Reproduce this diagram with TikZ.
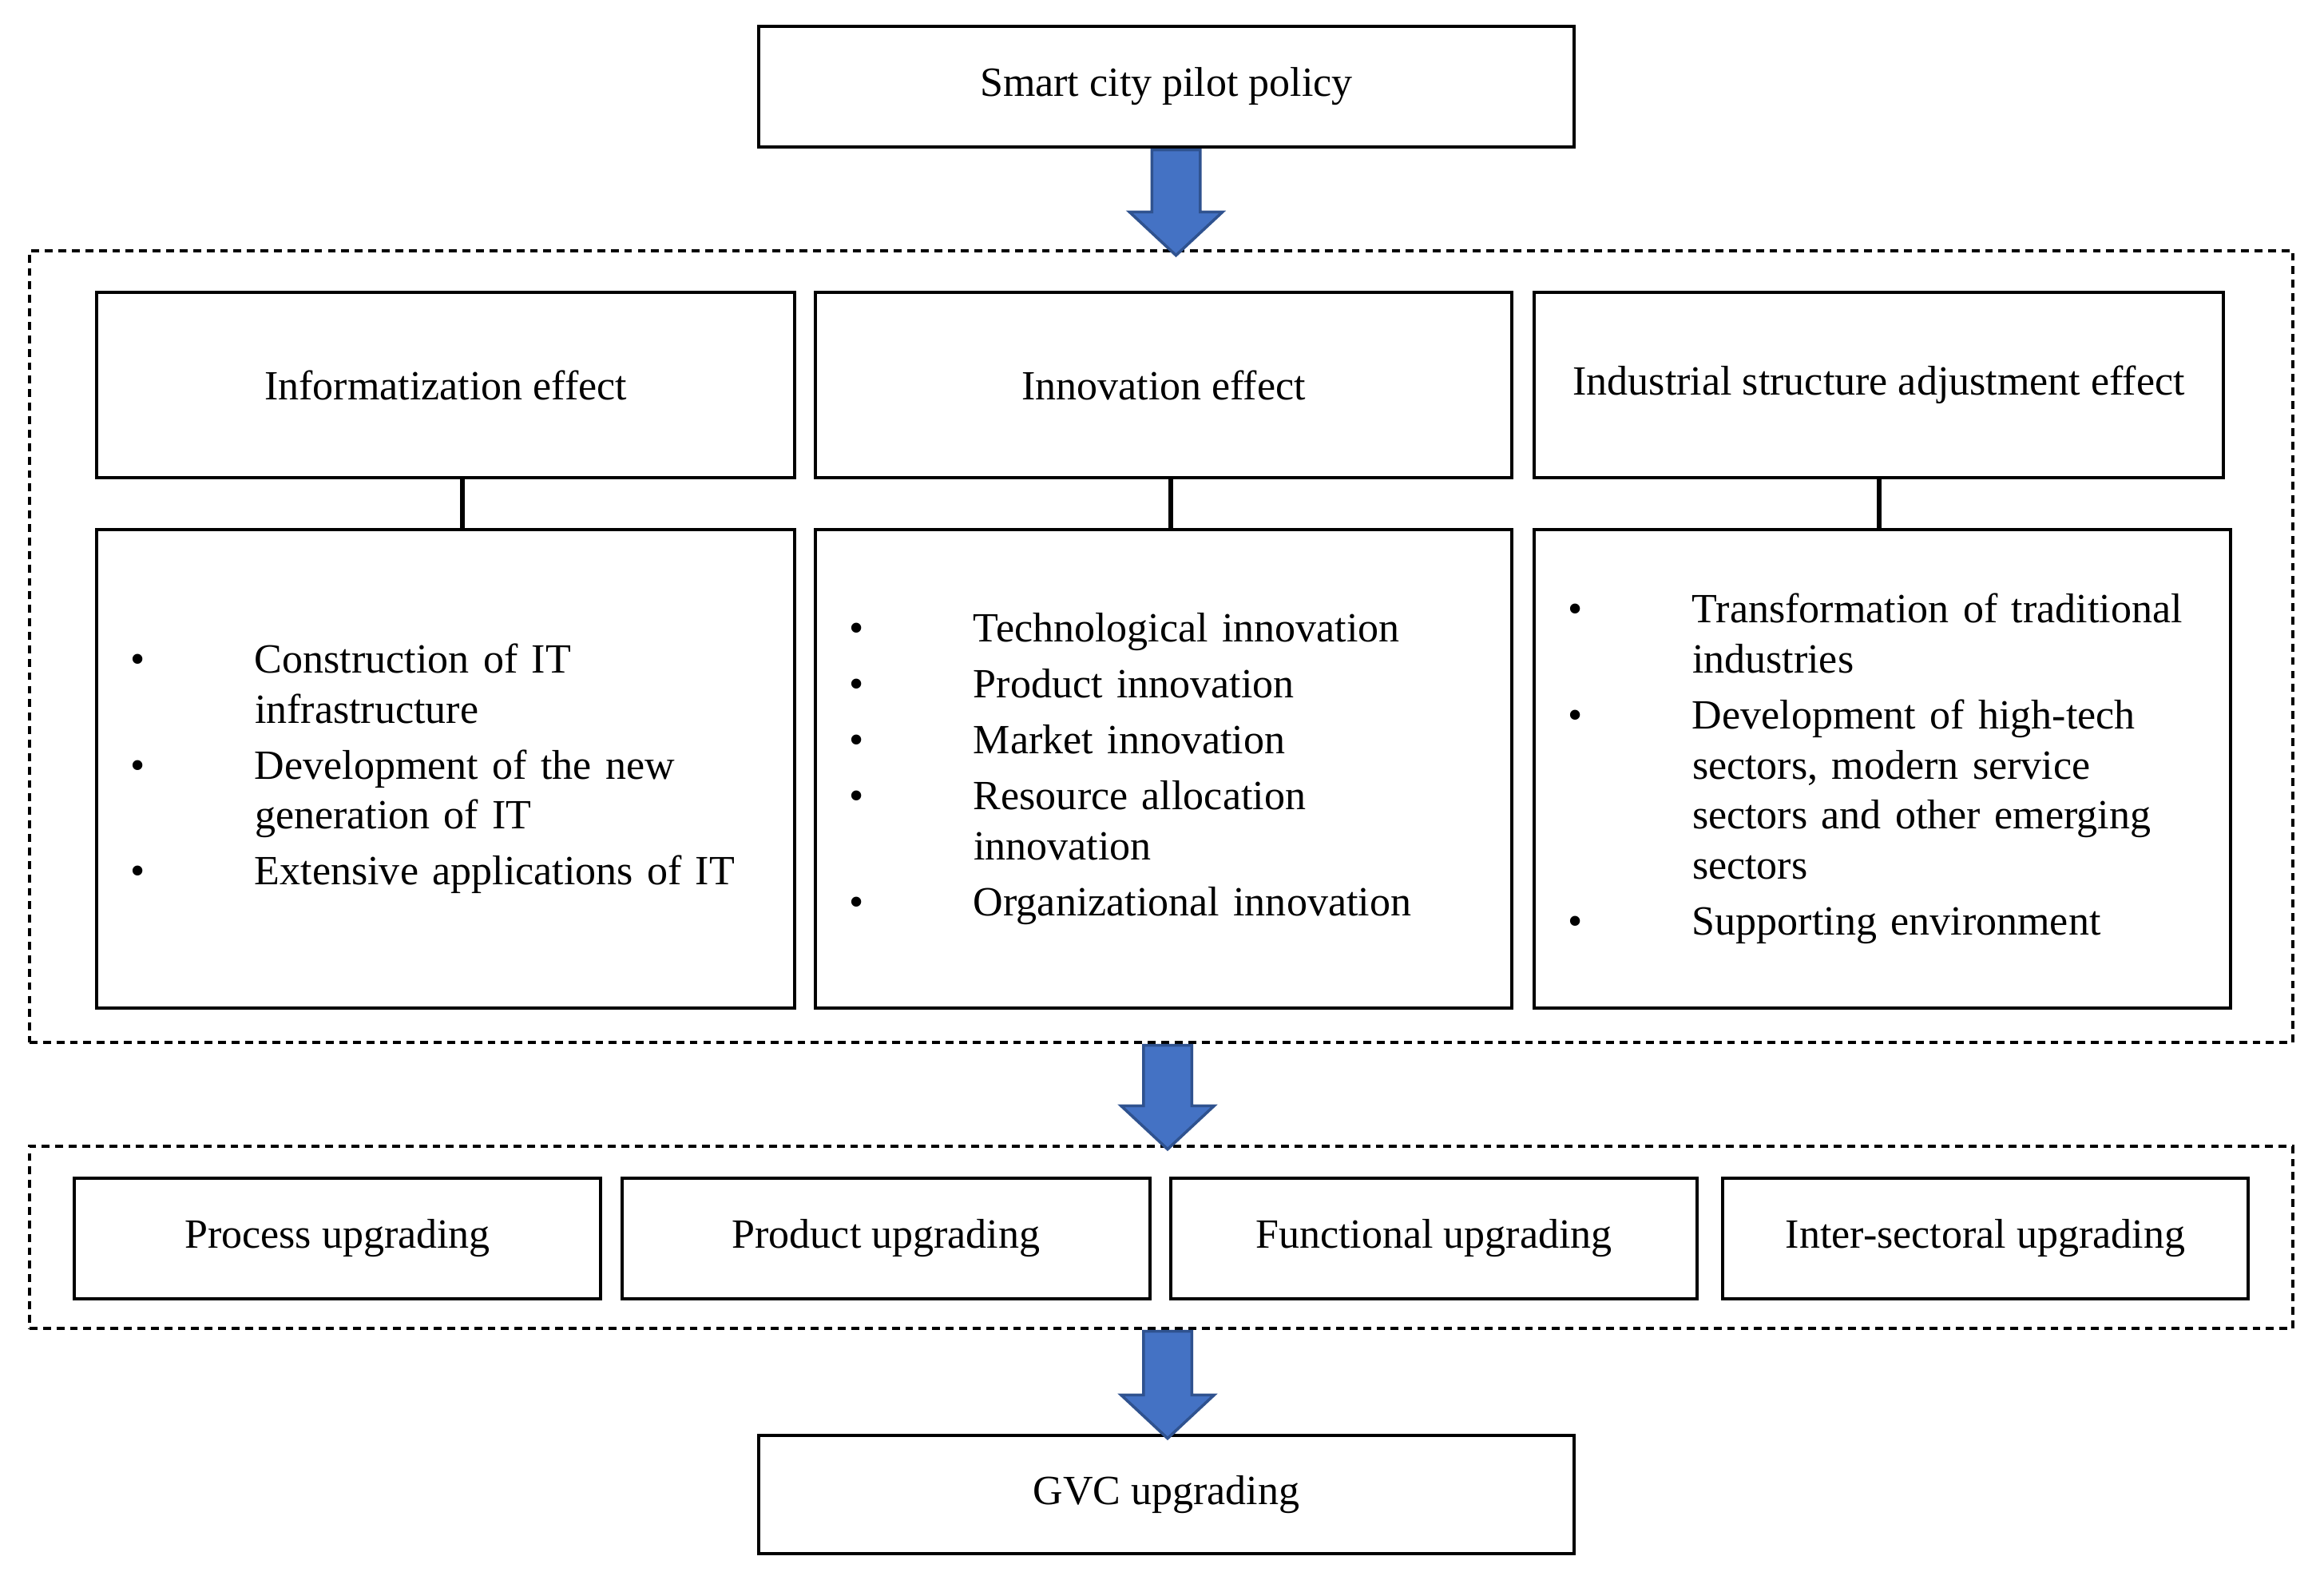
\documentclass[tikz,border=0pt]{standalone}
\usepackage{fontspec}
\setmainfont{Liberation Serif}
\usetikzlibrary{shapes.arrows}
\definecolor{arrowblue}{HTML}{4472C4}
\definecolor{arrowedge}{HTML}{2F528F}
\tikzset{
    box/.style={rectangle, draw, line width=1.1pt, inner sep=0pt, font=\fontsize{14.8}{17.9}\selectfont},
    listbox/.style={box, align=left, text width=#1, inner xsep=0.42cm},
    dashbox/.style={rectangle, draw, line width=1.1pt, dash pattern=on 2.8pt off 2pt},
    link/.style={line width=1.7pt},
    bigarrow/.style={single arrow, shape border rotate=270, draw=arrowedge, fill=arrowblue, line width=1pt, minimum width=1.13cm, single arrow head extend=0.28cm, single arrow tip angle=94, inner sep=0.285cm, anchor=tail}
}
\begin{document}
\begin{tikzpicture}
    \useasboundingbox (0,0) rectangle (29.10,-19.78);
    \node(policy) [box, minimum width=10.21cm, minimum height=1.51cm] at (14.605,-1.085) {Smart city pilot policy};
    \node(mech) [dashbox, minimum width=28.34cm, minimum height=9.91cm] at (14.54,-8.095) {};

    \node(infohead) [box, minimum width=8.74cm, minimum height=2.32cm] at (5.58,-4.82) {Informatization effect};
    \node(innohead) [box, minimum width=8.72cm, minimum height=2.32cm] at (14.57,-4.82) {Innovation effect};
    \node(induhead) [box, minimum width=8.63cm, minimum height=2.32cm] at (23.525,-4.82) {Industrial structure adjustment effect};

    \node(infolist) [listbox=7.90cm, minimum height=5.99cm] at (5.58,-9.625) {
        \begin{tabular}{@{}p{1.56cm}@{}l@{}}
        \textbullet & Construction of IT\\
                    & infrastructure\\[2pt]
        \textbullet & Development of the new\\
                    & generation of IT\\[2pt]
        \textbullet & Extensive applications of IT
        \end{tabular}
    };
    \node(innolist) [listbox=7.88cm, minimum height=5.99cm] at (14.57,-9.625) {
        \begin{tabular}{@{}p{1.56cm}@{}l@{}}
        \textbullet & Technological innovation\\[2pt]
        \textbullet & Product innovation\\[2pt]
        \textbullet & Market innovation\\[2pt]
        \textbullet & Resource allocation\\
                    & innovation\\[2pt]
        \textbullet & Organizational innovation
        \end{tabular}
    };
    \node(indulist) [listbox=7.88cm, minimum height=5.99cm] at (23.57,-9.625) {
        \begin{tabular}{@{}p{1.56cm}@{}l@{}}
        \textbullet & Transformation of traditional\\
                    & industries\\[2pt]
        \textbullet & Development of high-tech\\
                    & sectors, modern service\\
                    & sectors and other emerging\\
                    & sectors\\[2pt]
        \textbullet & Supporting environment
        \end{tabular}
    };

    \draw[link] ([xshift=2.1mm]infohead.south) -- ([xshift=2.1mm]infolist.north);
    \draw[link] ([xshift=0.9mm]innohead.south) -- ([xshift=0.9mm]innolist.north);
    \draw[link] (induhead.south) -- (induhead.south |- indulist.north);

    \node(upgbox) [dashbox, minimum width=28.34cm, minimum height=2.28cm] at (14.54,-15.49) {};
    \node(process) [box, minimum width=6.59cm, minimum height=1.51cm] at (4.225,-15.505) {Process upgrading};
    \node(product) [box, minimum width=6.61cm, minimum height=1.51cm] at (11.095,-15.505) {Product upgrading};
    \node(functional) [box, minimum width=6.59cm, minimum height=1.51cm] at (17.955,-15.505) {Functional upgrading};
    \node(sectoral) [box, minimum width=6.58cm, minimum height=1.51cm] at (24.86,-15.505) {Inter-sectoral upgrading};

    \node(gvc) [box, minimum width=10.21cm, minimum height=1.48cm] at (14.605,-18.71) {GVC upgrading};

    \node(a1) [bigarrow, minimum height=1.32cm] at ([xshift=1.2mm]policy.south) {};
    \node(a2) [bigarrow, minimum height=1.30cm] at ([xshift=0.8mm]mech.south) {};
    \node(a3) [bigarrow, minimum height=1.34cm] at ([xshift=0.8mm]upgbox.south) {};
\end{tikzpicture}
\end{document}
